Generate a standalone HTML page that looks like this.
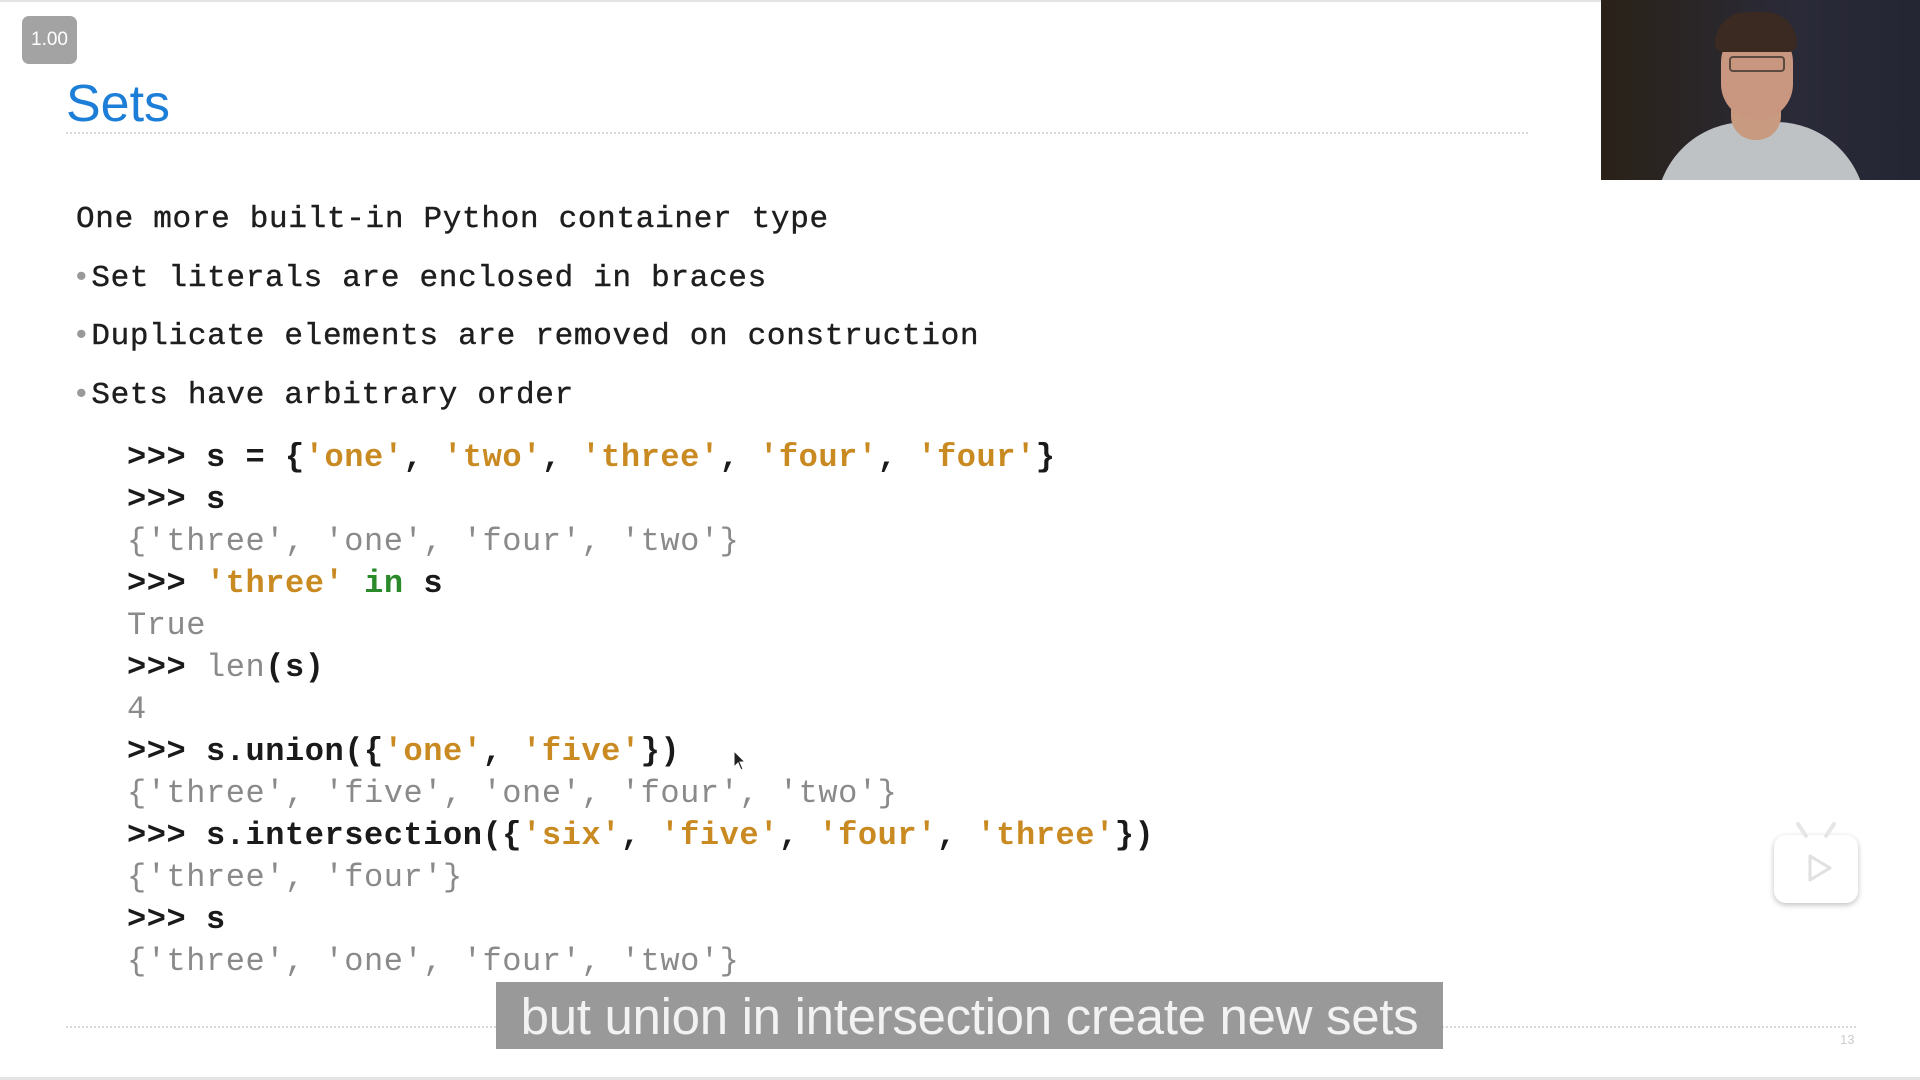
<!DOCTYPE html>
<html><head><meta charset="utf-8"><style>
html,body{margin:0;padding:0;width:1920px;height:1080px;overflow:hidden;background:#fff;position:relative;font-family:"Liberation Sans",sans-serif}
.a{position:absolute}
.t{position:absolute;left:76px;font-family:"Liberation Mono",monospace;font-size:31px;letter-spacing:0.7px;color:#1e1e1e;white-space:pre;line-height:40px;-webkit-text-stroke:0.4px #1e1e1e}
.c{position:absolute;left:127px;font-family:"Liberation Mono",monospace;font-size:32px;letter-spacing:0.55px;white-space:pre;line-height:42px;color:#1a1a1a;font-weight:bold}
.o{color:#c98a22}.g{color:#8a8a8a;font-weight:normal}.gr{color:#2a8a2a}
.dot{color:#999;-webkit-text-stroke:0}
</style></head><body>
<div class="a" style="left:0;top:0;width:1920px;height:2px;background:#e4e4e4"></div>
<div class="a" style="left:22px;top:16px;width:55px;height:48px;background:#a3a3a3;border-radius:7px;color:#fff;font-size:19px;line-height:48px;text-align:center">1.00</div>
<div class="a" style="left:66px;top:71px;font-size:52px;color:#1d7ed8;line-height:66px">Sets</div>
<div class="a" style="left:66px;top:132px;width:1462px;border-top:2px dotted #d8d8d8"></div>

<div class="t" style="top:200px">One more built-in Python container type</div>
<div class="t" style="top:259px;left:72px"><span class="dot">•</span>Set literals are enclosed in braces</div>
<div class="t" style="top:317px;left:72px"><span class="dot">•</span>Duplicate elements are removed on construction</div>
<div class="t" style="top:376px;left:72px"><span class="dot">•</span>Sets have arbitrary order</div>

<div class="c" style="top:437px">&gt;&gt;&gt; s = {<span class="o">'one'</span>, <span class="o">'two'</span>, <span class="o">'three'</span>, <span class="o">'four'</span>, <span class="o">'four'</span>}</div>
<div class="c" style="top:479px">&gt;&gt;&gt; s</div>
<div class="c g" style="top:521px">{'three', 'one', 'four', 'two'}</div>
<div class="c" style="top:563px">&gt;&gt;&gt; <span class="o">'three'</span> <span class="gr">in</span> s</div>
<div class="c g" style="top:605px">True</div>
<div class="c" style="top:647px">&gt;&gt;&gt; <span class="g">len</span>(s)</div>
<div class="c g" style="top:689px">4</div>
<div class="c" style="top:731px">&gt;&gt;&gt; s.union({<span class="o">'one'</span>, <span class="o">'five'</span>})</div>
<div class="c g" style="top:773px">{'three', 'five', 'one', 'four', 'two'}</div>
<div class="c" style="top:815px">&gt;&gt;&gt; s.intersection({<span class="o">'six'</span>, <span class="o">'five'</span>, <span class="o">'four'</span>, <span class="o">'three'</span>})</div>
<div class="c g" style="top:857px">{'three', 'four'}</div>
<div class="c" style="top:899px">&gt;&gt;&gt; s</div>
<div class="c g" style="top:941px">{'three', 'one', 'four', 'two'}</div>

<svg class="a" style="left:733px;top:750px" width="16" height="24"><path d="M1 1 L1 17 L5 13 L8 20 L10 19 L7 12 L12 12 Z" fill="#222" stroke="#fff" stroke-width="1"/></svg>

<div class="a" style="left:66px;top:1026px;width:1790px;border-top:2px dotted #d8d8d8"></div>
<div class="a" style="left:1840px;top:1032px;font-size:13px;color:#ccc">13</div>
<div class="a" style="left:496px;top:982px;width:947px;height:67px;background:#999;color:#f2f2f2;font-size:51px;line-height:70px;text-align:center;letter-spacing:-0.3px">but union in intersection create new sets</div>

<div class="a" style="left:1774px;top:835px;width:84px;height:68px;background:#fff;border-radius:12px;box-shadow:0 2px 6px rgba(0,0,0,.25)"></div>
<svg class="a" style="left:1774px;top:820px" width="84" height="90"><path d="M24 4 L32 16 M60 4 L52 16" stroke="#e6e6e6" stroke-width="4" stroke-linecap="round"/><path d="M36 36 L36 60 L56 48 Z" fill="none" stroke="#e0e0e0" stroke-width="3" stroke-linejoin="round"/></svg>

<div class="a" style="left:1601px;top:0;width:319px;height:180px;background:linear-gradient(90deg,#2a2218,#2a2a38 60%,#242634);overflow:hidden">
  <div class="a" style="left:55px;top:122px;width:210px;height:90px;background:#bfc2c4;border-radius:90px 90px 0 0"></div>
  <div class="a" style="left:130px;top:105px;width:50px;height:35px;background:#c89a80;border-radius:0 0 24px 24px"></div>
  <div class="a" style="left:120px;top:28px;width:72px;height:92px;background:#c99680;border-radius:34px 34px 36px 36px"></div>
  <div class="a" style="left:114px;top:12px;width:82px;height:40px;background:#3a2a22;border-radius:38px 38px 10px 10px"></div>
  <div class="a" style="left:128px;top:56px;width:52px;height:12px;border:2px solid #5a4a40;border-radius:4px"></div>
</div>
<div class="a" style="left:0;top:1077px;width:1920px;height:3px;background:#e4e4e4"></div>
</body></html>
